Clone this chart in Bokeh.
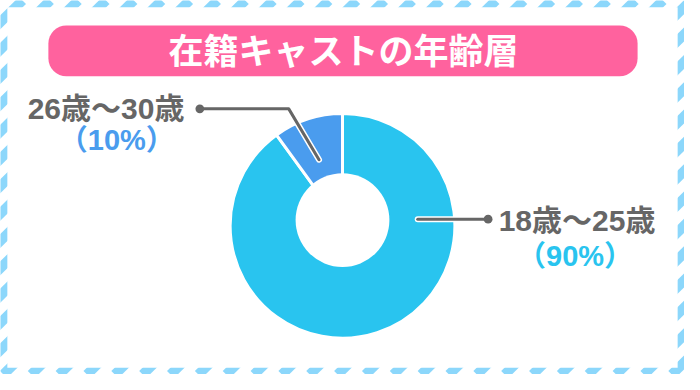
import numpy as np
from bokeh.plotting import figure
from bokeh.models import Range1d
from bokeh.embed import file_html
from bokeh.resources import INLINE
from bokeh.core.properties import value

# ---- data ----
title_text = "在籍キャストの年齢層"
categories = ["18歳〜25歳", "26歳〜30歳"]
percents = [90, 10]
pct_labels = ["（90%）", "（10%）"]
slice_colors = ["#29c4ef", "#4a9cee"]

# ---- layout (reference pixel space 700x390, drawn into 684x374) ----
W, H = 684, 374
RW, RH = 700, 390
def Y(s):
    return RH - s

FONT = value("Liberation Sans, Noto Sans CJK JP")
GRAY = "#666666"
STRIPE = "#8cd7fb"

p = figure(width=W, height=H, output_backend="svg", toolbar_location=None,
           x_range=Range1d(0, RW), y_range=Range1d(0, RH),
           min_border=0, background_fill_color="white", border_fill_color="white")
p.axis.visible = False
p.grid.visible = False
p.outline_line_color = None

# striped border
x0s, y0s, x1s, y1s = [], [], [], []
period = 28.5
for k in range(-16, 30):
    xs = 3 + k * period
    x0s.append(xs); y0s.append(0)
    x1s.append(xs + RH); y1s.append(RH)
p.segment(x0=x0s, y0=y0s, x1=x1s, y1=y1s, line_color=STRIPE, line_width=10)
band = 7
p.quad(left=band, right=RW - band, bottom=band, top=RH - band,
       fill_color="white", line_color=None)

# title box
p.quad(left=49, right=652, top=Y(26), bottom=Y(79), fill_color="#ff629e",
       line_color=None, border_radius=18)
p.text(x=[351], y=[Y(53)], text=[title_text], text_color="white", text_font=FONT,
       text_font_style="bold", text_font_size="35px", text_align="center",
       text_baseline="middle")

# donut
cx, cy = 350, Y(235)
fr = np.array(percents, dtype=float) / sum(percents)
ends_cum = np.cumsum(fr)
starts = np.pi / 2 - 2 * np.pi * np.concatenate([[0], ends_cum[:-1]])
ends = np.pi / 2 - 2 * np.pi * ends_cum
p.wedge(x=[cx] * len(percents), y=[cy] * len(percents), radius=115,
        start_angle=list(starts), end_angle=list(ends), direction="clock",
        fill_color=slice_colors, line_color="white", line_width=3)
p.circle(x=[350], y=[Y(229)], radius=48, fill_color="white", line_color=None)

# leaders
left_pts = [(204, 113), (295, 113), (326, 166)]
right_pts = [(427, 228), (499, 228)]
for pts in (left_pts, right_pts):
    xs = [a for a, b in pts]
    ys = [Y(b) for a, b in pts]
    p.line(xs, ys, line_color="white", line_width=6, line_cap="round", line_join="round")
    p.line(xs, ys, line_color=GRAY, line_width=3, line_cap="round", line_join="round")
p.circle(x=[204, 499], y=[Y(113), Y(228)], radius=4.5, fill_color=GRAY, line_color=None)

# labels
p.text(x=[590, 108], y=[Y(229), Y(113)], text=categories, text_color=GRAY,
       text_font=FONT, text_font_style="bold", text_font_size="30px",
       text_align="center", text_baseline="middle")
p.text(x=[588, 119], y=[Y(266), Y(145)], text=pct_labels, text_color=slice_colors,
       text_font=FONT, text_font_style="bold", text_font_size="29px",
       text_align="center", text_baseline="middle")

open("out.html", "w").write(file_html(p, INLINE))
